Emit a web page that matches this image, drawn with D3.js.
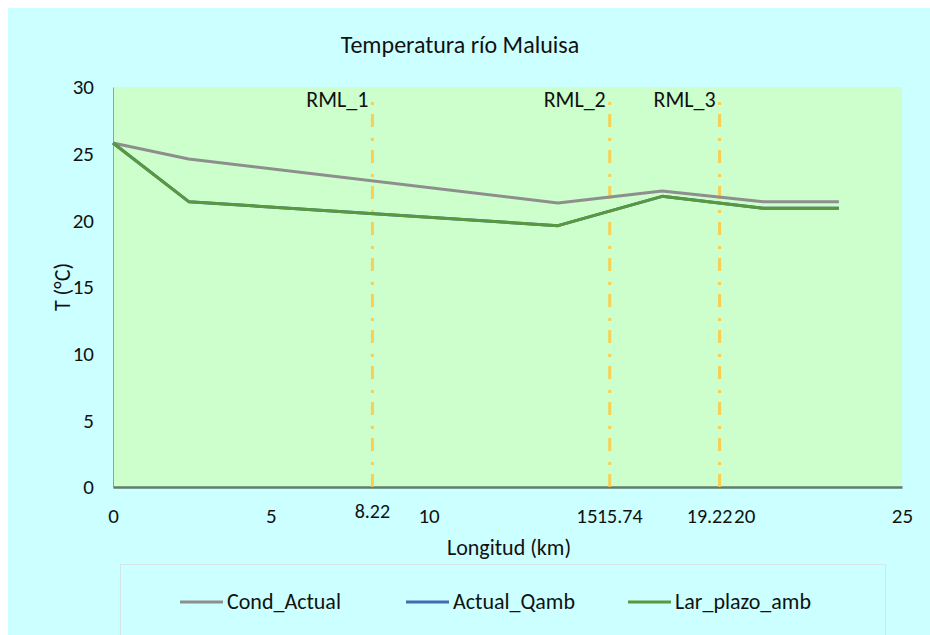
<!DOCTYPE html>
<html lang="es">

<head>
  <meta charset="utf-8">
  <title>Temperatura río Maluisa</title>
  <script src="https://cdn.jsdelivr.net/npm/d3@7"></script>
  <style>
    body { margin: 0; background: #ffffff; }
    svg { display: block; font-family: Carlito, Lato, sans-serif; }
  </style>
</head>

<body>
  <svg class="chart"></svg>
  <script type="text/javascript">
    // Data
    var longitud = [0, 2.4, 14.1, 17.4, 20.6, 23.0];
    var condActual = [25.8, 24.6, 21.3, 22.2, 21.4, 21.4];
    var actualQamb = [25.8, 21.4, 19.6, 21.8, 20.9, 20.9];
    var larPlazoAmb = [25.8, 21.4, 19.6, 21.8, 20.9, 20.9];
    var seriesNames = ["Cond_Actual", "Actual_Qamb", "Lar_plazo_amb"];
    var estaciones = ["RML_1", "RML_2", "RML_3"];
    var estacionKm = [8.22, 15.74, 19.22];
    var xTicks = [0, 5, 10, 15, 20, 25];
    var yTicks = [0, 5, 10, 15, 20, 25, 30];

    var w = 930;
    var h = 635;
    var margin = { left: 113, right: 28, top: 87, bottom: 148 };
    var colors = ["#8e8e8e", "#3f6db0", "#5a9840"];
    var font = "Carlito, Lato, sans-serif";
    // km labels sit a bit off the line, like the original
    var kmLabelShift = [0, 10, -10];

    var svg = d3.select("svg")
      .attr("width", w)
      .attr("height", h);

    // chart background
    svg.append("rect")
      .attr("x", 8).attr("y", 8)
      .attr("width", w - 8).attr("height", h - 8)
      .attr("fill", "#ccffff");

    var x = d3.scaleLinear()
      .domain([0, 25])
      .range([margin.left, w - margin.right]);

    var y = d3.scaleLinear()
      .domain([0, 30])
      .range([h - margin.bottom, margin.top]);

    // plot area
    svg.append("rect")
      .attr("x", x(0)).attr("y", y(30))
      .attr("width", x(25) - x(0))
      .attr("height", y(0) - y(30))
      .attr("fill", "#ccffcc");

    // title
    svg.append("text")
      .attr("x", 460).attr("y", 53)
      .attr("text-anchor", "middle")
      .style("font-size", "24px")
      .attr("fill", "#111")
      .text("Temperatura río Maluisa");

    // Y axis
    var yAxis = d3.axisLeft(y).tickValues(yTicks).tickSize(0).tickPadding(19);
    var gy = svg.append("g")
      .attr("transform", "translate(" + x(0) + ",0)")
      .call(yAxis)
      .attr("font-size", 21)
      .attr("font-family", font);
    gy.select(".domain").attr("stroke", "#8fa59a").attr("stroke-width", 1);
    gy.selectAll("text").attr("fill", "#111");

    // X axis
    var xAxis = d3.axisBottom(x).tickValues(xTicks).tickSize(0).tickPadding(21);
    var gx = svg.append("g")
      .attr("transform", "translate(0," + y(0) + ")")
      .call(xAxis)
      .attr("font-size", 21)
      .attr("font-family", font);
    gx.select(".domain").attr("stroke", "#5f7c6c").attr("stroke-width", 2.5);
    gx.selectAll("text").attr("fill", "#111");

    // axis titles
    svg.append("text")
      .attr("transform", "translate(70," + (y(15)) + ") rotate(-90)")
      .attr("text-anchor", "middle")
      .style("font-size", "22px")
      .attr("fill", "#111")
      .text("T (°C)");

    svg.append("text")
      .attr("x", 509).attr("y", 555)
      .attr("text-anchor", "middle")
      .style("font-size", "22px")
      .attr("fill", "#111")
      .text("Longitud (km)");

    // vertical station lines
    svg.selectAll(".estacion")
      .data(estacionKm)
      .enter()
      .append("line")
      .attr("class", "estacion")
      .attr("x1", function(d) { return x(d); })
      .attr("x2", function(d) { return x(d); })
      .attr("y1", y(0))
      .attr("y2", y(29.7))
      .attr("stroke", "#ffc63d")
      .attr("stroke-opacity", 0.85)
      .attr("stroke-width", 3)
      .attr("stroke-dasharray", "13,9,3,11");

    svg.selectAll(".estacion-label")
      .data(estaciones)
      .enter()
      .append("text")
      .attr("class", "estacion-label")
      .attr("x", function(d, i) { return x(estacionKm[i]) - 4; })
      .attr("y", 107)
      .attr("text-anchor", "end")
      .style("font-size", "22px")
      .attr("fill", "#111")
      .text(function(d) { return d; });

    // station km labels under the axis
    svg.selectAll(".km-label")
      .data(estacionKm)
      .enter()
      .append("text")
      .attr("class", "km-label")
      .attr("x", function(d, i) { return x(d) + kmLabelShift[i]; })
      .attr("y", function(d, i) { return i == 0 ? 518 : 523; })
      .attr("text-anchor", "middle")
      .style("font-size", "20px")
      .attr("fill", "#111")
      .text(function(d) { return d; });

    // series
    var series = [condActual, actualQamb, larPlazoAmb];
    var line = d3.line()
      .x(function(d, i) { return x(longitud[i]); })
      .y(function(d) { return y(d); });

    svg.selectAll(".serie")
      .data(series)
      .enter()
      .append("path")
      .attr("class", "serie")
      .attr("d", line)
      .attr("fill", "none")
      .attr("stroke", function(d, i) { return colors[i]; })
      .attr("stroke-width", 3)
      .attr("stroke-linejoin", "round");

    // legend
    svg.append("rect")
      .attr("x", 120.5).attr("y", 564.5)
      .attr("width", 765).attr("height", 90)
      .attr("fill", "none")
      .attr("stroke", "#d6e6e6");

    var legendX = [180, 406, 628];
    var legend = svg.selectAll(".legend")
      .data(seriesNames)
      .enter()
      .append("g")
      .attr("class", "legend")
      .attr("transform", function(d, i) { return "translate(" + legendX[i] + ",602)"; });

    legend.append("line")
      .attr("x1", 0).attr("x2", 43)
      .attr("stroke", function(d, i) { return colors[i]; })
      .attr("stroke-width", 3);

    legend.append("text")
      .attr("x", 47).attr("y", 7)
      .style("font-size", "22px")
      .attr("fill", "#111")
      .text(function(d) { return d; });
  </script>
</body>

</html>
